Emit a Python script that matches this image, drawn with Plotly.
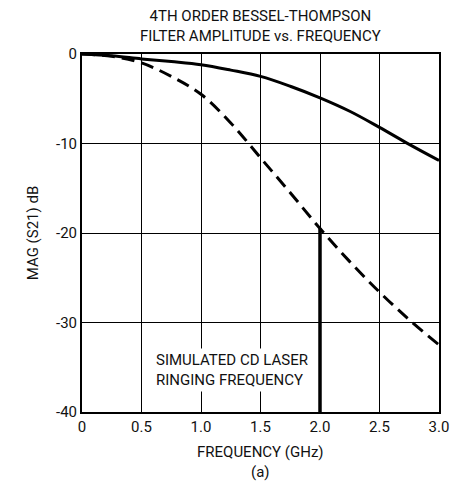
import plotly.graph_objects as go

freq_solid = [0, 0.25, 0.5, 0.75, 1.0, 1.25, 1.5, 1.75, 2.0, 2.25, 2.5, 2.75, 3.0]
mag_solid = [0, -0.2, -0.55, -0.85, -1.2, -1.8, -2.5, -3.6, -4.9, -6.4, -8.2, -10.1, -11.9]
freq_dash = [0, 0.25, 0.5, 0.75, 1.0, 1.25, 1.5, 1.75, 2.0, 2.25, 2.5, 2.75, 3.0]
mag_dash = [0, -0.25, -1.0, -2.5, -4.5, -7.7, -11.6, -15.5, -19.5, -23.2, -26.6, -29.7, -32.5]
marker_x = [2.0, 2.0]
marker_y = [-40, -19.5]
x_ticks = [0, 0.5, 1.0, 1.5, 2.0, 2.5, 3.0]
x_ticktext = ["0", "0.5", "1.0", "1.5", "2.0", "2.5", "3.0"]
y_ticks = [0, -10, -20, -30, -40]
y_ticktext = ["0", "-10", "-20", "-30", "-40"]

FONT = "Roboto, sans-serif"
TXT = "#111"

fig = go.Figure()
fig.add_trace(go.Scatter(x=freq_solid, y=mag_solid, mode="lines", line=dict(color="black", width=3, shape="spline"), showlegend=False))
fig.add_trace(go.Scatter(x=freq_dash, y=mag_dash, mode="lines", line=dict(color="black", width=3, dash="13px,7px", shape="spline"), showlegend=False))
fig.add_trace(go.Scatter(x=marker_x, y=marker_y, mode="lines", line=dict(color="black", width=3.5), showlegend=False))

fig.add_annotation(x=0.6, y=-35.3, xref="x", yref="y", text="SIMULATED CD LASER<br>RINGING FREQUENCY",
                   showarrow=False, xanchor="left", yanchor="middle", align="left",
                   font=dict(family=FONT, size=15, color=TXT), bgcolor="white", borderpad=2)

fig.add_annotation(x=0.5, y=1.0, xref="paper", yref="paper", yshift=7, text="4TH ORDER BESSEL-THOMPSON<br>FILTER AMPLITUDE vs. FREQUENCY",
                   showarrow=False, xanchor="center", yanchor="bottom", align="center",
                   font=dict(family=FONT, size=15, color=TXT))
fig.add_annotation(x=0.5, y=0, xref="paper", yref="paper", yshift=-29, text="FREQUENCY (GHz)<br>(a)",
                   showarrow=False, xanchor="center", yanchor="top", align="center",
                   font=dict(family=FONT, size=15, color=TXT))

fig.update_xaxes(range=[0, 3.0], tickvals=x_ticks, ticktext=x_ticktext, showgrid=True, gridcolor="black", gridwidth=1,
                 showline=True, linecolor="black", linewidth=2, mirror=True, zeroline=False, ticks="",
                 automargin=False, ticklabeloverflow="allow", tickfont=dict(family=FONT, size=15, color=TXT))
fig.update_yaxes(range=[-40, 0], tickvals=y_ticks, ticktext=y_ticktext, showgrid=True, gridcolor="black", gridwidth=1,
                 showline=True, linecolor="black", linewidth=2, mirror=True, zeroline=False, ticks="",
                 automargin=False, ticklabeloverflow="allow", tickfont=dict(family=FONT, size=15, color=TXT),
                 title=dict(text="MAG (S21) dB", font=dict(family=FONT, size=15, color=TXT), standoff=14))

fig.update_layout(width=451, height=484, margin=dict(l=82, r=12, t=54, b=72),
                  plot_bgcolor="white", paper_bgcolor="white")

fig.write_html("out.html")
